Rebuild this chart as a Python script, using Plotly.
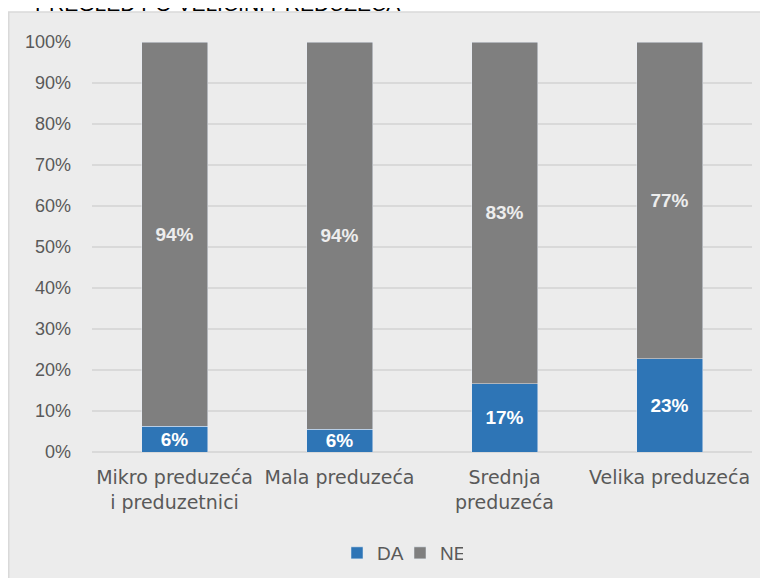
import plotly.graph_objects as go

categories = ["Mikro preduzeća<br>i preduzetnici", "Mala preduzeća", "Srednja<br>preduzeća", "Velika preduzeća"]
da_values = [6.3, 5.5, 16.7, 22.8]
ne_values = [93.7, 94.5, 83.3, 77.2]
da_labels = ["6%", "6%", "17%", "23%"]
ne_labels = ["94%", "94%", "83%", "77%"]
y_ticks = [0, 10, 20, 30, 40, 50, 60, 70, 80, 90, 100]
y_tick_labels = ["0%", "10%", "20%", "30%", "40%", "50%", "60%", "70%", "80%", "90%", "100%"]

BLUE = "#2e75b6"
GRAY = "#7f7f7f"
GRID = "#d9d9d9"
TEXT = "#595959"

# plot area in figure pixels (page adds an 8px body margin)
L, R, T, B = 84, 744, 34, 444
W, H = R - L, B - T


def px_x(x):
    return (x - L) / W


def px_y(y):
    return 1 - (y - T) / H


fig = go.Figure()
fig.add_trace(go.Bar(
    x=categories, y=da_values, name="DA", marker_color=BLUE,
    text=da_labels, textposition="inside", insidetextanchor="middle", textangle=0,
    textfont=dict(family="Liberation Sans", size=19, color="#ffffff", weight="bold"),
))
fig.add_trace(go.Bar(
    x=categories, y=ne_values, name="NE", marker_color=GRAY,
    text=ne_labels, textposition="inside", insidetextanchor="middle", textangle=0,
    textfont=dict(family="Liberation Sans", size=19, color="#ededed", weight="bold"),
))

# light grey chart box (left and top edges visible, rest runs off the picture)
fig.add_shape(
    type="rect", xref="paper", yref="paper", layer="below",
    x0=px_x(0.75), x1=px_x(800), y0=px_y(620), y1=px_y(4),
    fillcolor="#ececec", line=dict(color=GRID, width=1.5),
)

# title sits mostly above the top edge, as in the source picture
fig.add_annotation(
    text="PREGLED PO VELIČINI PREDUZEĆA",
    font=dict(family="Liberation Sans", size=21, color="#000000"),
    xref="paper", yref="paper", showarrow=False,
    x=px_x(25), xanchor="left",
    y=px_y(-4), yanchor="middle",
)

fig.update_layout(
    barmode="stack",
    bargap=0.6,
    width=768, height=578,
    margin=dict(l=L, r=768 - R, t=T, b=578 - B, autoexpand=False),
    paper_bgcolor="#ffffff",
    plot_bgcolor="rgba(0,0,0,0)",
    font=dict(family="Liberation Sans", color=TEXT),
    uniformtext=dict(minsize=19, mode="show"),
    legend=dict(
        orientation="h", x=px_x(392), xanchor="center",
        y=px_y(553 - 8), yanchor="middle",
        font=dict(family="Liberation Sans", size=19, color=TEXT),
        bgcolor="rgba(0,0,0,0)", traceorder="normal",
        entrywidth=18, entrywidthmode="pixels",
    ),
    showlegend=True,
)
fig.update_xaxes(
    tickfont=dict(family="DejaVu Sans", size=19, color=TEXT),
    showgrid=False, showline=False, ticks="", ticklabelstandoff=12,
)
fig.update_yaxes(
    range=[0, 100], tickvals=y_ticks, ticktext=y_tick_labels,
    tickfont=dict(family="Liberation Sans", size=18, color=TEXT),
    showgrid=True, gridcolor=GRID, gridwidth=2,
    zeroline=True, zerolinecolor=GRID, zerolinewidth=2,
    showline=False, ticks="", ticklabelstandoff=20,
)

fig.write_html("out.html")
